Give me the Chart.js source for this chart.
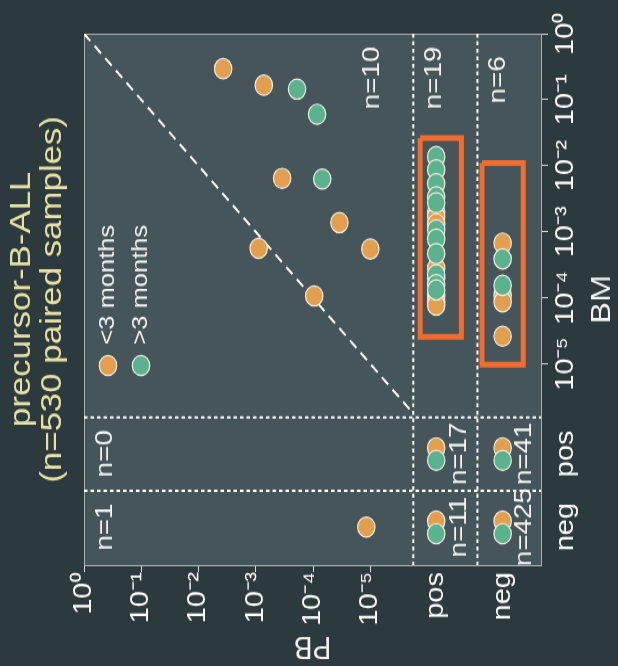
<!DOCTYPE html>
<html>
<head>
<meta charset="utf-8">
<script src="https://cdn.jsdelivr.net/npm/chart.js@4.4.1/dist/chart.umd.min.js"></script>
<style>
  html, body { margin: 0; padding: 0; background: #2c3a3d; }
  #mrd { display: block; }
</style>
</head>
<body>
<canvas id="mrd" width="618" height="574" style="width:618px;height:666px"></canvas>
<script>
// MRD levels are plotted as log10 values; 'pos' / 'neg' categories sit beyond 10^-5
const PB_POS = -6.15, PB_NEG = -7.31;
const BM_POS = -6.36, BM_NEG = -7.47;
const PB_SPLITS = [-5.75, -6.87];
const BM_SPLITS = [-5.81, -6.92];

// tick positions and labels
const decadeTicks = [0, -1, -2, -3, -4, -5];
const decadeLabels = ['10⁰', '10⁻¹', '10⁻²', '10⁻³', '10⁻⁴', '10⁻⁵'];
const categoryLabels = ['pos', 'neg'];

// "<3 months": PB and BM both quantitative
const earlyBothPB = [-2.43, -3.14, -3.46, -4.46, -3.05, -5.00, -4.02];
const earlyBothBM = [-0.53, -0.78, -2.19, -2.86, -3.25, -3.26, -3.97];
// ">3 months": PB and BM both quantitative
const lateBothPB = [-3.72, -4.07, -4.16];
const lateBothBM = [-0.84, -1.22, -2.20];

// PB positive (not quantifiable), BM quantitative
const earlyPBposBM = [-2.70, -2.77, -2.88, -3.55, -3.70, -3.97, -4.05, -4.11];
const latePBposBM = [-1.86, -2.06, -2.27, -2.47, -2.56, -2.97, -3.11, -3.33, -3.65, -3.80, -3.88];

// PB negative, BM quantitative
const earlyPBnegBM = [-3.17, -3.96, -4.06, -4.58];
const latePBnegBM = [-3.41, -3.81];

// PB quantitative, BM negative
const earlyBMnegPB = [-4.93];

// categorical cells (PB, BM) that contain samples of each group
const earlyCells = [['pos', 'pos'], ['neg', 'pos'], ['pos', 'neg'], ['neg', 'neg']];
const lateCells = [['pos', 'pos'], ['neg', 'pos'], ['pos', 'neg'], ['neg', 'neg']];

// sample counts per region
const countLabels = ['n=10', 'n=19', 'n=6', 'n=0', 'n=17', 'n=41', 'n=1', 'n=11', 'n=425'];
const countPB = [-5.03, -6.11, -7.23, -0.37, -6.56, -7.69, -0.37, -6.56, -7.69];
const countBM = [-0.67, -0.67, -0.70, BM_POS, BM_POS, BM_POS, BM_NEG, BM_NEG, BM_NEG];

// highlighted PB pos / PB neg columns
const boxPB = [[-5.87, -6.59], [-6.95, -7.67]];
const boxBM = [[-1.58, -4.59], [-1.96, -5.01]];

const legendLabels = ['<3 months', '>3 months'];
const titleLines = ['precursor-B-ALL', '(n=530 paired samples)'];

// ---- styling ----
const FONT = "'Liberation Sans', Arial, Helvetica, sans-serif";
const ORANGE = '#e39e4e';
const GREEN = '#5bb28f';
const MARK_EDGE = '#f3eee2';
const BOX = '#f26d2d';
const PLOT_BG = '#45555a';
const FRAME = '#a9b1b2';
const TEXT = '#f4f4f4';
const TITLE = '#e6e2a6';
const DODGE_EARLY = 0.09, DODGE_LATE = -0.10;

const catPB = { pos: PB_POS, neg: PB_NEG };
const catBM = { pos: BM_POS, neg: BM_NEG };

function pairs(xs, ys) { return xs.map((x, i) => ({ x, y: ys[i] })); }

const earlyPoints = [
  ...pairs(earlyBothPB, earlyBothBM),
  ...earlyPBposBM.map(y => ({ x: PB_POS, y })),
  ...earlyPBnegBM.map(y => ({ x: PB_NEG, y })),
  ...earlyBMnegPB.map(x => ({ x, y: BM_NEG })),
  ...earlyCells.map(([p, b]) => ({ x: catPB[p], y: catBM[b] + DODGE_EARLY }))
];
const latePoints = [
  ...pairs(lateBothPB, lateBothBM),
  ...latePBposBM.map(y => ({ x: PB_POS, y })),
  ...latePBnegBM.map(y => ({ x: PB_NEG, y })),
  ...lateCells.map(([p, b]) => ({ x: catPB[p], y: catBM[b] + DODGE_LATE }))
];

const X_MIN = -7.98, Y_MIN = -8.045;

const xLabel = new Map(decadeTicks.map((v, i) => [v, decadeLabels[i]]));
xLabel.set(PB_POS, categoryLabels[0]); xLabel.set(PB_NEG, categoryLabels[1]);
const yLabel = new Map(decadeTicks.map((v, i) => [v, decadeLabels[i]]));
yLabel.set(BM_POS, categoryLabels[0]); yLabel.set(BM_NEG, categoryLabels[1]);

function lineSet(data, color, width, dash, order) {
  return {
    data, showLine: true, borderColor: color, borderWidth: width, borderDash: dash,
    pointRadius: 0, pointHoverRadius: 0, fill: false, order,
    borderJoinStyle: 'miter', borderCapStyle: 'butt', tension: 0
  };
}

const boxSets = boxPB.map((pb, i) => {
  const bm = boxBM[i];
  return lineSet([
    { x: pb[0], y: bm[0] }, { x: pb[1], y: bm[0] }, { x: pb[1], y: bm[1] },
    { x: pb[0], y: bm[1] }, { x: pb[0], y: bm[0] }
  ], BOX, 5, [], 5);
});
const splitSets = [
  ...PB_SPLITS.map(v => lineSet([{ x: v, y: 0 }, { x: v, y: Y_MIN }], '#ffffff', 2, [3.5, 3], 6)),
  ...BM_SPLITS.map(v => lineSet([{ x: 0, y: v }, { x: X_MIN, y: v }], '#ffffff', 2, [3.5, 3], 6))
];
const diagonal = lineSet([{ x: 0, y: 0 }, { x: PB_SPLITS[0], y: PB_SPLITS[0] }], '#ffffff', 2, [9, 6], 7);

function rotText(ctx, text, x, y, angle, size, color, align) {
  ctx.save();
  ctx.translate(x, y);
  ctx.rotate(angle);
  ctx.font = size + 'px ' + FONT;
  ctx.fillStyle = color;
  ctx.textAlign = align || 'center';
  ctx.textBaseline = 'middle';
  ctx.fillText(text, 0, 0);
  ctx.restore();
}

const decor = {
  id: 'decor',
  beforeDraw(chart) {
    const { ctx, chartArea: a } = chart;
    ctx.save();
    ctx.fillStyle = PLOT_BG;
    ctx.fillRect(a.left, a.top, a.right - a.left, a.bottom - a.top);
    ctx.strokeStyle = FRAME;
    ctx.lineWidth = 1;
    ctx.beginPath();
    ctx.moveTo(a.left + 0.5, a.bottom);
    ctx.lineTo(a.left + 0.5, a.top + 0.5);
    ctx.lineTo(a.right, a.top + 0.5);
    ctx.stroke();
    ctx.restore();
  },
  afterDraw(chart) {
    const { ctx, chartArea: a, scales } = chart;
    const up = -Math.PI / 2;
    const midY = (a.top + a.bottom) / 2;
    const midX = (a.left + a.right) / 2;

    // title
    rotText(ctx, titleLines[0], 22, midY, up, 30, TITLE);
    rotText(ctx, titleLines[1], 53, midY, up, 30, TITLE);

    // axis titles
    rotText(ctx, 'BM', 602, midY, up, 28, TEXT);
    rotText(ctx, 'PB', midX, 557, Math.PI, 28, TEXT);

    // counts
    countLabels.forEach((t, i) => {
      rotText(ctx, t, scales.x.getPixelForValue(countPB[i]), scales.y.getPixelForValue(countBM[i]), up, 24, TEXT);
    });

    // legend
    const lx = [a.left + 24, a.left + 57];
    const ly = a.top + 286;
    [ORANGE, GREEN].forEach((c, i) => {
      ctx.save();
      ctx.beginPath();
      ctx.arc(lx[i], ly, 8.7, 0, Math.PI * 2);
      ctx.fillStyle = c;
      ctx.fill();
      ctx.lineWidth = 1.2;
      ctx.strokeStyle = MARK_EDGE;
      ctx.stroke();
      ctx.restore();
      rotText(ctx, legendLabels[i], lx[i], ly - 18, up, 22, TEXT, 'left');
    });
  }
};

new Chart(document.getElementById('mrd'), {
  type: 'scatter',
  data: {
    datasets: [
      { label: legendLabels[1], data: latePoints, backgroundColor: GREEN, borderColor: MARK_EDGE,
        borderWidth: 1.2, pointRadius: 8.7, pointHoverRadius: 8.7, order: 1 },
      { label: legendLabels[0], data: earlyPoints, backgroundColor: ORANGE, borderColor: MARK_EDGE,
        borderWidth: 1.2, pointRadius: 8.7, pointHoverRadius: 8.7, order: 2 },
      ...boxSets,
      ...splitSets,
      diagonal
    ]
  },
  options: {
    responsive: false,
    animation: false,
    devicePixelRatio: 1,
    events: [],
    layout: { padding: { left: 84, top: 29, right: 0, bottom: 0 } },
    plugins: { legend: { display: false }, tooltip: { enabled: false }, title: { display: false } },
    scales: {
      x: {
        type: 'linear', position: 'bottom', reverse: true, min: X_MIN, max: 0,
        afterBuildTicks: s => { s.ticks = [...decadeTicks, PB_POS, PB_NEG].map(v => ({ value: v })); },
        afterFit: s => { s.height = 87; },
        ticks: {
          autoSkip: false, minRotation: 90, maxRotation: 90, padding: 0,
          color: '#ffffff', font: { family: FONT, size: 25 },
          callback: v => xLabel.get(v)
        },
        grid: {
          drawOnChartArea: false, drawTicks: true, tickLength: 6, tickWidth: 1,
          tickColor: c => (c.tick && c.tick.value < -5.5) ? 'rgba(0,0,0,0)' : '#d4d8d8'
        },
        border: { color: FRAME, width: 1 }
      },
      y: {
        type: 'linear', position: 'right', min: Y_MIN, max: 0,
        afterBuildTicks: s => { s.ticks = [...decadeTicks, BM_POS, BM_NEG].map(v => ({ value: v })); },
        afterFit: s => { s.width = 77; },
        ticks: {
          autoSkip: false, minRotation: 90, maxRotation: 90, crossAlign: 'center', padding: -5,
          color: '#ffffff', font: { family: FONT, size: 25 },
          callback: v => yLabel.get(v)
        },
        grid: {
          drawOnChartArea: false, drawTicks: true, tickLength: 7, tickWidth: 1,
          tickColor: c => (c.tick && c.tick.value < -5.5) ? 'rgba(0,0,0,0)' : '#d4d8d8'
        },
        border: { color: FRAME, width: 1 }
      }
    }
  },
  plugins: [decor]
});
</script>
</body>
</html>
